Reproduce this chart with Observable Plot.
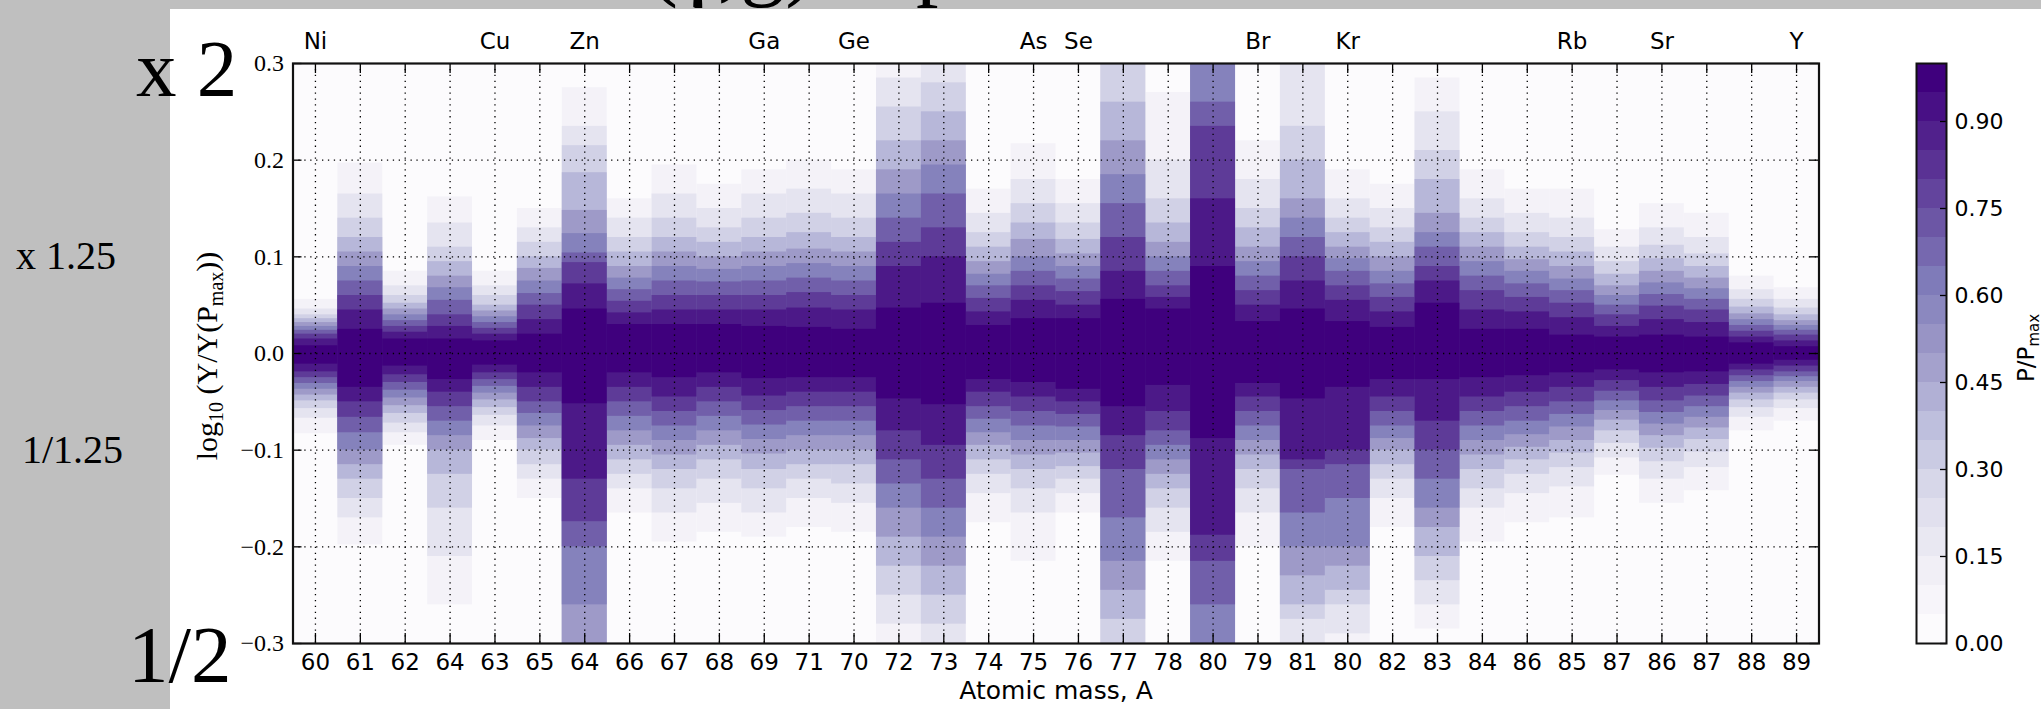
<!DOCTYPE html>
<html><head><meta charset="utf-8">
<script src="https://cdn.jsdelivr.net/npm/d3@7"></script>
<script src="https://cdn.jsdelivr.net/npm/@observablehq/plot@0.6"></script>
<style>
html,body{margin:0;padding:0;width:2041px;height:709px;overflow:hidden;background:#bfbfbf;}
#title{position:absolute;left:648px;top:-86px;font-family:"Liberation Serif",serif;font-size:90px;line-height:1;white-space:pre;color:#000;}
#panel{position:absolute;left:170px;top:9px;right:0;bottom:0;background:#fff;}
#main,#cbar,#ylab,#cblab{position:absolute;top:0;}
#main{left:0;} #cbar{left:1880px;}
.side{position:absolute;font-family:"Liberation Serif",serif;color:#000;white-space:pre;line-height:1;}
</style></head><body>
<div id="title">(γ,g)<span style="position:absolute;left:268px">p</span></div>
<div id="panel"></div>
<div id="main"></div>
<div id="cbar"></div>
<svg id="ylab" width="300" height="709" style="left:0"><text transform="translate(217,356) rotate(-90)" text-anchor="middle" font-family="Liberation Serif" font-size="30">log<tspan dy="6" font-size="20">10</tspan><tspan dy="-6"> (Y/Y(P</tspan><tspan dy="6" font-size="20">max</tspan><tspan dy="-6">))</tspan></text></svg>
<svg id="cblab" width="60" height="709" style="left:1990px"><text transform="translate(44,348) rotate(-90)" text-anchor="middle" font-family="DejaVu Sans" font-size="23">P/P<tspan dy="5" font-size="15">max</tspan></text></svg>
<div class="side" style="left:136px;top:29px;font-size:81px">x 2</div>
<div class="side" style="left:16px;top:236px;font-size:40px">x 1.25</div>
<div class="side" style="left:22px;top:430px;font-size:40px">1/1.25</div>
<div class="side" style="left:128px;top:615px;font-size:81px">1/2</div>
<script>
// ---- data ----
const masses = [60,61,62,64,63,65,64,66,67,68,69,71,70,72,73,74,75,76,77,78,80,79,81,80,82,83,84,86,85,87,86,87,88,89];
const elementCols = [0,4,6,10,12,16,17,21,23,28,30,33];
const elementSymbols = ["Ni","Cu","Zn","Ga","Ge","As","Se","Br","Kr","Rb","Sr","Y"];
// P/Pmax thresholds; upper/lower = extent of log10(Y/Y(Pmax)) where P/Pmax >= threshold
const levels = [0.05,0.15,0.25,0.35,0.45,0.55,0.65,0.75,0.85,0.95];
const upper = [
 [0.056,0.046,0.040,0.036,0.032,0.028,0.024,0.020,0.015,0.008],
 [0.197,0.165,0.14,0.12,0.105,0.09,0.075,0.06,0.045,0.025],
 [0.085,0.07,0.06,0.052,0.046,0.04,0.034,0.028,0.022,0.015],
 [0.162,0.135,0.11,0.095,0.08,0.068,0.055,0.04,0.028,0.015],
 [0.085,0.07,0.06,0.05,0.044,0.038,0.032,0.026,0.02,0.013],
 [0.15,0.13,0.115,0.1,0.088,0.075,0.062,0.05,0.035,0.02],
 [0.275,0.235,0.215,0.187,0.148,0.124,0.104,0.094,0.072,0.046],
 [0.16,0.14,0.12,0.105,0.09,0.078,0.066,0.054,0.042,0.03],
 [0.195,0.165,0.14,0.12,0.105,0.09,0.075,0.06,0.045,0.03],
 [0.175,0.15,0.13,0.115,0.1,0.087,0.074,0.06,0.045,0.03],
 [0.19,0.165,0.14,0.12,0.105,0.09,0.075,0.06,0.045,0.028],
 [0.2,0.17,0.145,0.125,0.108,0.093,0.078,0.063,0.047,0.027],
 [0.19,0.165,0.14,0.12,0.105,0.09,0.075,0.06,0.045,0.025],
 [0.31,0.285,0.255,0.22,0.19,0.165,0.14,0.115,0.09,0.047],
 [0.35,0.32,0.28,0.25,0.22,0.195,0.165,0.13,0.1,0.052],
 [0.17,0.145,0.125,0.11,0.095,0.082,0.07,0.057,0.043,0.029],
 [0.217,0.18,0.155,0.135,0.118,0.1,0.085,0.07,0.055,0.036],
 [0.18,0.155,0.135,0.118,0.103,0.09,0.077,0.064,0.05,0.036],
 [0.36,0.33,0.3,0.26,0.22,0.185,0.155,0.12,0.085,0.056],
 [0.27,0.2,0.16,0.135,0.115,0.1,0.085,0.07,0.058,0.046],
 [0.45,0.42,0.4,0.37,0.34,0.32,0.26,0.235,0.16,0.09],
 [0.22,0.18,0.15,0.13,0.11,0.095,0.08,0.065,0.05,0.033],
 [0.33,0.3,0.235,0.2,0.16,0.14,0.12,0.1,0.075,0.046],
 [0.19,0.16,0.14,0.125,0.11,0.098,0.085,0.07,0.055,0.033],
 [0.175,0.15,0.13,0.115,0.1,0.085,0.072,0.058,0.043,0.027],
 [0.285,0.25,0.21,0.18,0.145,0.125,0.11,0.09,0.075,0.052],
 [0.19,0.16,0.14,0.125,0.11,0.095,0.08,0.065,0.045,0.025],
 [0.17,0.145,0.125,0.11,0.097,0.085,0.072,0.058,0.043,0.025],
 [0.17,0.14,0.12,0.105,0.09,0.077,0.065,0.052,0.037,0.019],
 [0.128,0.11,0.095,0.082,0.07,0.06,0.05,0.04,0.028,0.017],
 [0.155,0.13,0.112,0.098,0.085,0.073,0.061,0.049,0.035,0.019],
 [0.145,0.12,0.103,0.09,0.078,0.067,0.056,0.045,0.032,0.017],
 [0.08,0.066,0.056,0.048,0.041,0.035,0.029,0.023,0.017,0.011],
 [0.068,0.056,0.047,0.04,0.034,0.029,0.024,0.019,0.013,0.007]
];
const lower = [
 [-0.083,-0.067,-0.057,-0.049,-0.043,-0.037,-0.031,-0.025,-0.019,-0.011],
 [-0.198,-0.17,-0.15,-0.13,-0.115,-0.1,-0.082,-0.066,-0.05,-0.035],
 [-0.095,-0.082,-0.072,-0.062,-0.054,-0.046,-0.038,-0.03,-0.022,-0.013],
 [-0.26,-0.21,-0.16,-0.125,-0.1,-0.085,-0.07,-0.055,-0.04,-0.027],
 [-0.09,-0.075,-0.064,-0.056,-0.048,-0.041,-0.034,-0.027,-0.02,-0.012],
 [-0.15,-0.13,-0.115,-0.1,-0.088,-0.075,-0.062,-0.05,-0.035,-0.02],
 [-0.45,-0.42,-0.39,-0.36,-0.31,-0.26,-0.2,-0.174,-0.13,-0.052],
 [-0.165,-0.14,-0.125,-0.11,-0.095,-0.08,-0.065,-0.05,-0.035,-0.02],
 [-0.195,-0.165,-0.14,-0.12,-0.105,-0.09,-0.075,-0.06,-0.045,-0.025],
 [-0.185,-0.155,-0.13,-0.11,-0.095,-0.08,-0.065,-0.05,-0.035,-0.02],
 [-0.19,-0.165,-0.14,-0.12,-0.104,-0.089,-0.074,-0.059,-0.044,-0.026],
 [-0.18,-0.15,-0.13,-0.115,-0.1,-0.085,-0.07,-0.055,-0.04,-0.025],
 [-0.185,-0.155,-0.135,-0.115,-0.1,-0.085,-0.07,-0.055,-0.04,-0.025],
 [-0.31,-0.28,-0.25,-0.22,-0.19,-0.16,-0.135,-0.11,-0.08,-0.047],
 [-0.35,-0.32,-0.28,-0.25,-0.22,-0.19,-0.16,-0.13,-0.095,-0.053],
 [-0.175,-0.145,-0.125,-0.11,-0.095,-0.082,-0.068,-0.055,-0.04,-0.027],
 [-0.215,-0.165,-0.14,-0.12,-0.105,-0.09,-0.075,-0.06,-0.045,-0.03],
 [-0.165,-0.145,-0.13,-0.117,-0.103,-0.09,-0.076,-0.063,-0.05,-0.037],
 [-0.4,-0.35,-0.315,-0.275,-0.245,-0.215,-0.17,-0.12,-0.085,-0.055],
 [-0.215,-0.185,-0.16,-0.14,-0.125,-0.11,-0.095,-0.08,-0.06,-0.033],
 [-0.45,-0.42,-0.4,-0.37,-0.34,-0.32,-0.26,-0.215,-0.188,-0.088],
 [-0.2,-0.165,-0.14,-0.12,-0.105,-0.09,-0.075,-0.06,-0.045,-0.031],
 [-0.33,-0.3,-0.275,-0.26,-0.23,-0.2,-0.165,-0.12,-0.11,-0.047],
 [-0.31,-0.29,-0.26,-0.245,-0.22,-0.2,-0.15,-0.115,-0.1,-0.035],
 [-0.18,-0.15,-0.13,-0.115,-0.1,-0.088,-0.075,-0.06,-0.045,-0.027],
 [-0.285,-0.26,-0.235,-0.21,-0.18,-0.16,-0.13,-0.1,-0.07,-0.027],
 [-0.195,-0.16,-0.14,-0.12,-0.105,-0.09,-0.075,-0.06,-0.045,-0.025],
 [-0.175,-0.145,-0.125,-0.11,-0.097,-0.084,-0.07,-0.055,-0.04,-0.023],
 [-0.17,-0.138,-0.118,-0.103,-0.09,-0.076,-0.063,-0.05,-0.035,-0.02],
 [-0.126,-0.108,-0.093,-0.08,-0.069,-0.059,-0.049,-0.039,-0.028,-0.017],
 [-0.155,-0.13,-0.112,-0.098,-0.085,-0.073,-0.061,-0.049,-0.035,-0.02],
 [-0.142,-0.118,-0.102,-0.089,-0.077,-0.066,-0.055,-0.044,-0.032,-0.019],
 [-0.08,-0.066,-0.056,-0.048,-0.041,-0.035,-0.029,-0.023,-0.017,-0.011],
 [-0.07,-0.057,-0.048,-0.041,-0.035,-0.029,-0.024,-0.019,-0.013,-0.007]
];
const yTicks = [-0.3,-0.2,-0.1,0,0.1,0.2,0.3];
const cbarBands = [0,0.05,0.1,0.15,0.2,0.25,0.3,0.35,0.4,0.45,0.5,0.55,0.6,0.65,0.7,0.75,0.8,0.85,0.9,0.95];
const cbarTicks = [0,0.15,0.3,0.45,0.6,0.75,0.9];
const purplesStops = ["#fcfbfd","#efedf5","#dadaeb","#bcbddc","#9e9ac8","#807dba","#6a51a3","#54278f","#3f007d"];

// ---- build ----
const purples = d3.piecewise(d3.interpolateRgb, purplesStops);
const colorScale = {type: "linear", domain: [0.025, 0.975], interpolate: purples, clamp: true};
const cols = masses.map((_, i) => i);
const cells = [];
levels.forEach((L, k) => cols.forEach(c => cells.push({c, lo: lower[c][k], hi: upper[c][k], v: Math.min(L + 0.05, 0.975)})));

const W = 1880, H = 709, mL = 292.5, mR = 61.5, mT = 63, mB = 66;
const fw = W - mL - mR, fh = H - mT - mB;
const fmtY = d3.format(".1f");
const dots = {stroke: "#000", strokeWidth: 1.3, strokeDasharray: "1.3,4.6"};
const sans = "DejaVu Sans, Verdana, sans-serif";

const main = Plot.plot({
  width: W, height: H, marginLeft: mL, marginRight: mR, marginTop: mT, marginBottom: mB,
  x: {type: "band", domain: cols, padding: 0, axis: null},
  y: {domain: [-0.3, 0.3], axis: null},
  color: colorScale,
  style: {background: "transparent", fontFamily: sans, fontSize: "23px", color: "#000", overflow: "visible"},
  marks: [
    Plot.frame({fill: purples(0)}),
    Plot.barY(cells, {x: "c", y1: "lo", y2: "hi", fill: "v", clip: true}),
    Plot.ruleX(cols, {x: d => d, ...dots}),
    Plot.ruleY(yTicks.slice(1, -1), {y: d => d, ...dots}),
    Plot.ruleX(cols, {x: d => d, stroke: "#000", strokeWidth: 1.3, insetTop: fh - 10}),
    Plot.ruleX(cols, {x: d => d, stroke: "#000", strokeWidth: 1.3, insetBottom: fh - 10}),
    Plot.ruleY(yTicks, {y: d => d, stroke: "#000", strokeWidth: 1.3, insetRight: fw - 9}),
    Plot.ruleY(yTicks, {y: d => d, stroke: "#000", strokeWidth: 1.3, insetLeft: fw - 9}),
    Plot.frame({stroke: "#111", strokeWidth: 2.2}),
    Plot.text(cols, {x: d => d, text: d => String(masses[d]), frameAnchor: "bottom", lineAnchor: "top", dy: 10, fontSize: 23}),
    Plot.text(elementCols, {x: d => d, text: (d, i) => elementSymbols[i], frameAnchor: "top", lineAnchor: "bottom", dy: -15, fontSize: 23}),
    Plot.text(yTicks, {y: d => d, text: d => fmtY(d), frameAnchor: "left", textAnchor: "end", dx: -9, fontFamily: "Liberation Serif, serif", fontSize: 24}),
    Plot.text(["Atomic mass, A"], {frameAnchor: "bottom", lineAnchor: "top", dy: 38, fontSize: 25})
  ]
});
document.getElementById("main").appendChild(main);

const cW = 161, cL = 36, cR = 95;
const cbar = Plot.plot({
  width: cW, height: H, marginLeft: cL, marginRight: cR, marginTop: mT, marginBottom: mB,
  x: {axis: null}, y: {domain: [0, 1], axis: null},
  color: colorScale,
  style: {background: "transparent", fontFamily: sans, fontSize: "23px", color: "#000", overflow: "visible"},
  marks: [
    Plot.barY(cbarBands, {y1: d => d, y2: d => d + 0.05, fill: d => d + 0.025}),
    Plot.ruleY(cbarTicks, {y: d => d, stroke: "#000", strokeWidth: 1.3, insetLeft: cW - cL - cR - 6}),
    Plot.frame({stroke: "#111", strokeWidth: 2}),
    Plot.text(cbarTicks, {y: d => d, text: d => d.toFixed(2), frameAnchor: "right", textAnchor: "start", dx: 8, fontSize: 22})
  ]
});
document.getElementById("cbar").appendChild(cbar);
</script>
</body></html>
